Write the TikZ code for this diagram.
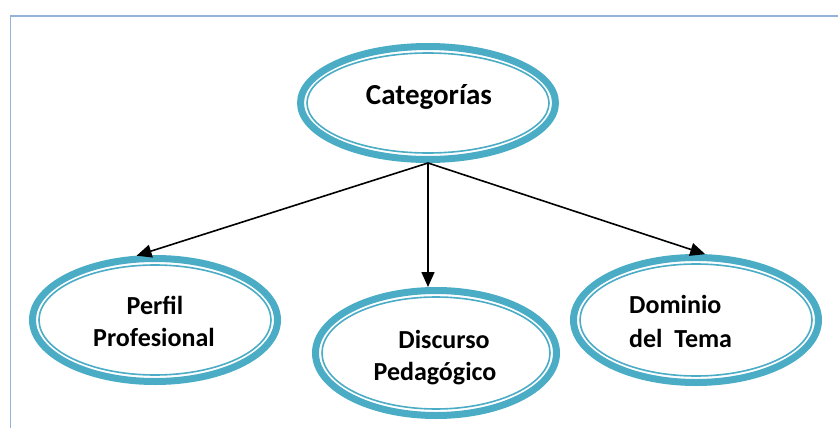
\documentclass[tikz,border=0pt]{standalone}
\usepackage{fontspec}
\setmainfont{Carlito}
\usetikzlibrary{shapes.geometric,arrows.meta}

\definecolor{ringblue}{RGB}{75,172,198}
\definecolor{framecol}{RGB}{149,179,215}

\tikzset{
  % thick outer ring of each ellipse
  oval/.style={ellipse, draw=ringblue, line width=7pt, inner sep=0pt,
               fill=white},
  % thin inner line of the ring
  innerline/.style={draw=ringblue, line width=1.6pt},
  label/.style={font=\bfseries\fontsize{26}{30}\selectfont, inner sep=0pt, text=black},
  biglabel/.style={font=\bfseries\fontsize{29}{34}\selectfont, inner sep=0pt, text=black},
  arr/.style={draw=black, line width=1.6pt, -{Triangle[length=15pt,width=13pt]}},
  frameline/.style={draw=framecol, line width=1.7pt}
}

\begin{document}
\begin{tikzpicture}[x=1pt,y=-1pt]
  \useasboundingbox (0,0) rectangle (838,428);

  % page frame
  \draw[frameline] (10.5,430) -- (10.5,16) -- (840,16);

  % ellipses (outer edge radii minus half the ring width)
  \node[oval, minimum width=255pt, minimum height=113pt] (cat)  at (428,103) {};
  \node[oval, minimum width=245pt, minimum height=123pt] (perf) at (155,320) {};
  \node[oval, minimum width=241pt, minimum height=125pt] (disc) at (436,353) {};
  \node[oval, minimum width=245pt, minimum height=125pt] (dom)  at (696,320) {};

  % thin inner lines
  \draw[innerline] (cat.center)  ellipse [x radius=121, y radius=50];
  \draw[innerline] (perf.center) ellipse [x radius=116, y radius=55];
  \draw[innerline] (disc.center) ellipse [x radius=114, y radius=56];
  \draw[innerline] (dom.center)  ellipse [x radius=116, y radius=56];

  % texts
  \node[biglabel, anchor=base] (tcat) at (429,104) {Categorías};
  \node[label, anchor=base] (tperf1) at (155,314) {Perfil};
  \node[label, anchor=base] (tperf2) at (154,346) {Profesional};
  \node[label, anchor=base] (tdisc1) at (444,348) {Discurso};
  \node[label, anchor=base] (tdisc2) at (435,380) {Pedagógico};
  \node[label, anchor=base west] (tdom1) at (629,313) {Dominio};
  \node[label, anchor=base west] (tdom2) at (629,347) {del\ \ Tema};

  % connectors
  \draw[arr] (cat.south) -- (perf.106);
  \draw[arr] (cat.south) -- (cat.south |- disc.north);
  \draw[arr] (cat.south) -- (dom.82);
\end{tikzpicture}
\end{document}
